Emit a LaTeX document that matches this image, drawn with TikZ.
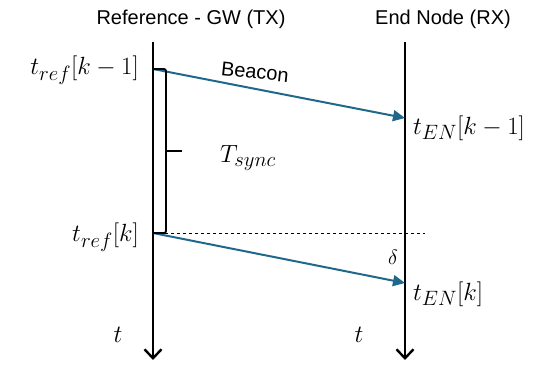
\documentclass[tikz,border=0pt]{standalone}
\usepackage{fontspec}
\setsansfont{Liberation Sans}
\usetikzlibrary{arrows.meta, positioning}
\definecolor{beaconblue}{RGB}{31,104,140}

\begin{document}
\begin{tikzpicture}[
        x=1pt, y=-1pt,
        head/.style={font=\sffamily\fontsize{20}{24}\selectfont, inner sep=0pt},
        lbl/.style={font=\fontsize{30}{36}\selectfont, inner sep=1pt},
        axis/.style={-{Straight Barb[length=9pt, width=17pt, line width=2.4pt]}, line width=2.6pt},
        beam/.style={-{Triangle[length=12pt, width=11pt]}, line width=2pt, beaconblue},
        brk/.style={line width=1.8pt, rounded corners=2pt}
    ]
    \useasboundingbox (0,0) rectangle (550,368);
    % time axes
    \coordinate (gwtop) at (153,42);
    \coordinate (gwbot) at (153,360);
    \coordinate (entop) at (405,42);
    \coordinate (enbot) at (405,360);
    \draw[axis] (gwtop) -- (gwbot);
    \draw[axis] (entop) -- (enbot);
    \node[head] (gwhead) at (191,19) {Reference - GW (TX)};
    \node[head] (enhead) at (443,19) {End Node (RX)};
    % beacons
    \coordinate (tx1) at (153,69);
    \coordinate (rx1) at (405,118);
    \coordinate (tx2) at (153,233);
    \coordinate (rx2) at (405,283);
    \draw[beam] (tx1) -- (rx1);
    \draw[beam] (tx2) -- (rx2);
    \node[head, rotate=-6] (beacon) at (255,72) {Beacon};
    \draw[dashed, line width=0.8pt] (tx2) -- (425,233) coordinate (dashend);
    % sync period bracket
    \coordinate (brtop) at (166,69);
    \coordinate (brbot) at (166,233);
    \coordinate (brmid) at (166,151);
    \coordinate (brtip) at (182,151);
    \draw[brk] (tx1) -- (brtop) -- (brbot) -- (tx2);
    \draw[brk] (brmid) -- (brtip);
    % labels
    \node[lbl, anchor=east] (tref1) at (140,70) {$t_{ref}[k-1]$};
    \node[lbl, anchor=east] (tref2) at (140,237) {$t_{ref}[k]$};
    \node[lbl, anchor=west] (ten1) at (412,128) {$t_{EN}[k-1]$};
    \node[lbl, anchor=west] (ten2) at (412,294) {$t_{EN}[k]$};
    \node[lbl] (tsync) at (248,158) {$T_{sync}$};
    \node[lbl, font=\fontsize{21}{25}\selectfont] (delta) at (393,257) {$\delta$};
    \node[lbl, font=\fontsize{32}{38}\selectfont] (tgw) at (118,335) {$t$};
    \node[lbl, font=\fontsize{32}{38}\selectfont] (ten) at (359,335) {$t$};
\end{tikzpicture}
\end{document}
